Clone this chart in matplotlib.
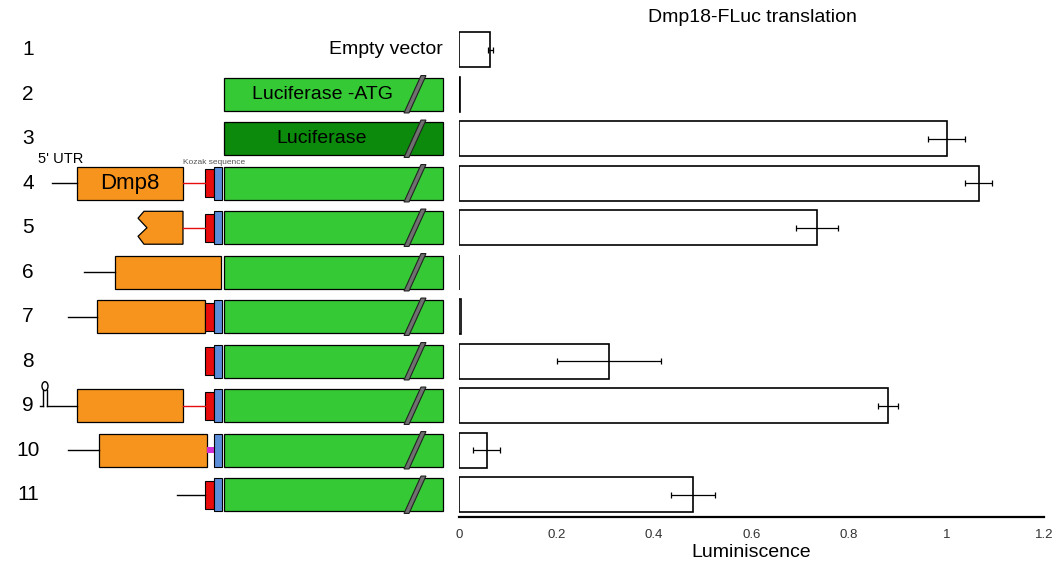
import numpy as np
import matplotlib.pyplot as plt
from matplotlib.patches import Rectangle, Polygon, Ellipse

plt.rcParams['font.family'] = ['Liberation Sans', 'DejaVu Sans']

# luminescence per construct (normalised to full-length Luciferase)
constructs = list(range(1, 12))
luminiscence = [0.064, 0.002, 1.0, 1.066, 0.735, 0.001, 0.004, 0.308, 0.880, 0.057, 0.480]
lum_err = [0.005, 0.0, 0.037, 0.028, 0.043, 0.0, 0.0, 0.106, 0.020, 0.028, 0.045]
xticks = [0, 0.2, 0.4, 0.6, 0.8, 1.0, 1.2]
xtick_labels = ['0', '0.2', '0.4', '0.6', '0.8', '1', '1.2']

# construct features, one entry per construct (None / False = absent)
utr_start = [None, None, None, 52, None, 84, 68, None, 47, 68, 177]
dmp8_span = [None, None, None, (77, 183), (137, 183), (115, 221), (97, 205),
             None, (77, 183), (99, 207), None]
linker = [None, None, None, 'red', 'red', None, None, None, 'red', 'magenta', None]
has_kozak = [False, False, False, True, True, False, True, True, True, False, True]
has_atg = [False, False, False, True, True, False, True, True, True, True, True]
has_luc = [False] + [True] * 10
luc_label = {2: 'Luciferase -ATG', 3: 'Luciferase'}

GREEN = '#35C935'
DARK_GREEN = '#0B8A0B'
ORANGE = '#F7941D'
RED = '#E80C0C'
BLUE = '#5B8DD9'
MAGENTA = '#D02ED0'

# element positions along the schematic (diagram units)
KOZAK = (205, 214)
ATG = (214, 222)
LUC = (224, 443)
BOX_H = 0.74
KOZAK_H = 0.62

W, H = 1056, 564
fig = plt.figure(figsize=(W / 100, H / 100), dpi=100)
bottom = 1 - 517 / H
height = 489.5 / H

# schematic of the reporter constructs
axd = fig.add_axes([0, bottom, 459 / W, height])
axd.set_xlim(0, 459)
axd.set_ylim(11.5, 0.5)
axd.axis('off')

for i, row in enumerate(constructs):
    y = row
    top, bot = y - BOX_H / 2, y + BOX_H / 2
    axd.text(28, y, str(row), ha='center', va='center', fontsize=15)

    if row == 1:
        axd.text(LUC[1], y, 'Empty vector', ha='right', va='center', fontsize=14)
        continue

    # 5' UTR line
    if utr_start[i] is not None:
        end = dmp8_span[i][0] if dmp8_span[i] else KOZAK[0]
        axd.plot([utr_start[i], end], [y, y], color='black', lw=1)

    # Dmp8 coding region
    if dmp8_span[i] is not None:
        x0, x1 = dmp8_span[i]
        if row == 5:
            h = BOX_H
            pts = [(x0 + 7, top), (x1, top), (x1, bot), (x0 + 7, bot),
                   (x0 + 1, top + 0.76 * h), (x0 + 10, y), (x0 + 1, top + 0.21 * h)]
            axd.add_patch(Polygon(pts, closed=True, fc=ORANGE, ec='black', lw=0.9))
        else:
            axd.add_patch(Rectangle((x0, top), x1 - x0, BOX_H, fc=ORANGE, ec='black', lw=0.9))
        if row == 4:
            axd.text((x0 + x1) / 2, y, 'Dmp8', ha='center', va='center', fontsize=16)

    # linker between Dmp8 and the Kozak sequence
    if linker[i] == 'red':
        axd.plot([dmp8_span[i][1], KOZAK[0]], [y, y], color=RED, lw=1)
    elif linker[i] == 'magenta':
        axd.add_patch(Rectangle((dmp8_span[i][1], y - 0.07), ATG[0] - dmp8_span[i][1], 0.14,
                                fc=MAGENTA, ec='none'))

    if has_kozak[i]:
        axd.add_patch(Rectangle((KOZAK[0], y - KOZAK_H / 2), KOZAK[1] - KOZAK[0], KOZAK_H,
                                fc=RED, ec='black', lw=0.8))
    if has_atg[i]:
        axd.add_patch(Rectangle((ATG[0], top), ATG[1] - ATG[0], BOX_H,
                                fc=BLUE, ec='black', lw=0.8))

    # luciferase ORF with break mark
    if has_luc[i]:
        fc = DARK_GREEN if row == 3 else GREEN
        axd.add_patch(Rectangle((LUC[0], top), LUC[1] - LUC[0], BOX_H, fc=fc, ec='black', lw=0.9))
        ext = 0.05
        brk = [(404, bot + ext), (409, bot + ext), (426, top - ext), (421, top - ext)]
        axd.add_patch(Polygon(brk, closed=True, fc='#707070', ec='#222222', lw=0.8, zorder=3))
        if row in luc_label:
            axd.text(322, y, luc_label[row], ha='center', va='center', fontsize=14)

    # hairpin upstream of the 5' UTR
    if row == 9:
        axd.plot([43, 43], [y - 0.36, y], color='black', lw=1)
        axd.plot([47, 47], [y - 0.36, y], color='black', lw=1)
        axd.plot([40, 43], [y, y], color='black', lw=1)
        axd.add_patch(Ellipse((45, y - 0.44), 6, 0.2, fc='none', ec='black', lw=1))

axd.text(38, 4 - 0.38, "5' UTR", ha='left', va='bottom', fontsize=10.5)
axd.text(183, 4 - 0.38, 'Kozak sequence', ha='left', va='bottom', fontsize=6, color='#555555')

# luminescence bars
ax = fig.add_axes([459 / W, bottom, 585 / W, height])
ax.barh(constructs, luminiscence, height=0.78, color='white', edgecolor='black', lw=1.2)
err_rows = [r for r, e in zip(constructs, lum_err) if e > 0]
err_vals = [v for v, e in zip(luminiscence, lum_err) if e > 0]
err_size = [e for e in lum_err if e > 0]
ax.errorbar(err_vals, err_rows, xerr=err_size, fmt='none', ecolor='black',
            elinewidth=0.9, capsize=2.5, capthick=0.9)
ax.set_xlim(0, 1.2)
ax.set_ylim(11.5, 0.5)
ax.set_yticks([])
ax.set_xticks(xticks)
ax.set_xticklabels(xtick_labels, fontsize=9.5, color='#333333')
ax.tick_params(axis='x', length=0, pad=9)
for side in ['left', 'top', 'right']:
    ax.spines[side].set_visible(False)
ax.spines['bottom'].set_linewidth(1.6)
ax.set_xlabel('Luminiscence', fontsize=14, labelpad=2)
fig.text(752 / W, 1 - 18 / H, 'Dmp18-FLuc translation', ha='center', va='center', fontsize=14)

fig.savefig('out.png', dpi=100)
